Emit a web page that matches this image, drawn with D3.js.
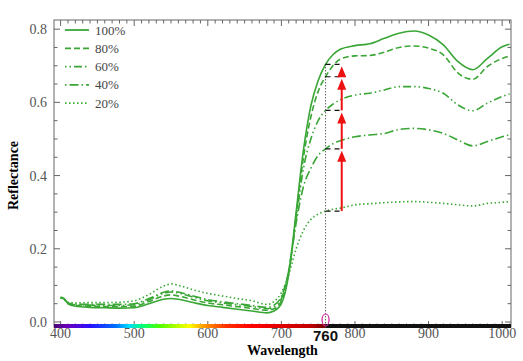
<!DOCTYPE html>
<html>
<head>
<meta charset="utf-8">
<script src="https://cdn.jsdelivr.net/npm/d3@7"></script>
<style>
  body { margin: 0; background: #fff; }
  svg { display: block; }
</style>
</head>
<body>
<div id="chart"></div>
<script>

const wavelengths = [400, 405, 410, 420, 440, 460, 480, 500, 520, 540, 550, 560, 580, 600, 620, 640, 660, 680, 690, 700, 710, 720, 730, 740, 750, 760, 770, 780, 800, 820, 840, 860, 880, 900, 920, 940, 960, 980, 1000, 1010];

const r100 = [0.068, 0.064, 0.050, 0.043, 0.040, 0.039, 0.038, 0.039, 0.050, 0.062, 0.064, 0.062, 0.053, 0.045, 0.040, 0.035, 0.030, 0.025, 0.030, 0.050, 0.130, 0.300, 0.470, 0.590, 0.660, 0.704, 0.730, 0.745, 0.755, 0.760, 0.775, 0.789, 0.795, 0.784, 0.757, 0.711, 0.689, 0.720, 0.752, 0.759];
const r80  = [0.066, 0.062, 0.050, 0.045, 0.043, 0.042, 0.042, 0.043, 0.056, 0.071, 0.074, 0.071, 0.061, 0.052, 0.047, 0.042, 0.037, 0.032, 0.036, 0.058, 0.140, 0.290, 0.450, 0.560, 0.630, 0.670, 0.700, 0.718, 0.727, 0.728, 0.737, 0.750, 0.754, 0.748, 0.730, 0.680, 0.663, 0.698, 0.720, 0.727];
const r60  = [0.066, 0.062, 0.051, 0.047, 0.046, 0.045, 0.045, 0.047, 0.061, 0.078, 0.082, 0.079, 0.068, 0.058, 0.052, 0.047, 0.042, 0.036, 0.041, 0.064, 0.140, 0.280, 0.420, 0.500, 0.550, 0.578, 0.595, 0.607, 0.620, 0.625, 0.634, 0.643, 0.643, 0.638, 0.625, 0.593, 0.577, 0.598, 0.616, 0.623];
const r40  = [0.066, 0.062, 0.052, 0.049, 0.048, 0.048, 0.048, 0.050, 0.064, 0.081, 0.085, 0.082, 0.071, 0.061, 0.055, 0.050, 0.045, 0.040, 0.046, 0.070, 0.140, 0.270, 0.370, 0.420, 0.455, 0.473, 0.487, 0.495, 0.506, 0.511, 0.515, 0.526, 0.529, 0.525, 0.515, 0.497, 0.481, 0.493, 0.506, 0.511];
const r20  = [0.066, 0.062, 0.054, 0.052, 0.053, 0.053, 0.054, 0.058, 0.075, 0.098, 0.104, 0.100, 0.088, 0.078, 0.071, 0.064, 0.058, 0.048, 0.056, 0.080, 0.130, 0.200, 0.250, 0.280, 0.295, 0.303, 0.308, 0.311, 0.320, 0.323, 0.326, 0.328, 0.329, 0.327, 0.324, 0.320, 0.317, 0.324, 0.327, 0.329];

const seriesLabels = ["100%", "80%", "60%", "40%", "20%"];
const seriesValues = [r100, r80, r60, r40, r20];
const dashes = [null, "6,3", "1.5,3,1.5,3,8,3", "1.5,3,9,3", "1.5,2.5"];

const xTicks = [400, 500, 600, 700, 800, 900, 1000];
const yTicks = [0.0, 0.2, 0.4, 0.6, 0.8];
const markWavelength = 760;

// spectrum strip under the x axis
const spectrumStops = [
  { w: 391, c: "#4a0070" }, { w: 410, c: "#6a00c0" }, { w: 440, c: "#2a10ff" },
  { w: 475, c: "#0070ff" }, { w: 492, c: "#00d8ff" }, { w: 510, c: "#00ff80" },
  { w: 535, c: "#50ff00" }, { w: 575, c: "#ffff00" }, { w: 595, c: "#ff9a00" },
  { w: 625, c: "#ff3000" }, { w: 660, c: "#ff0000" }, { w: 740, c: "#c00000" },
  { w: 760, c: "#700000" }
];

const width = 523;
const height = 361;
const margin = { top: 20, right: 12, bottom: 34, left: 54 };
const lineColor = "#3aa636";
const axisColor = "#666";
const labelColor = "#555";

const svg = d3.select("#chart")
  .append("svg")
    .attr("width", width)
    .attr("height", height);

const xScale = d3.scaleLinear()
  .domain([391, 1012])
  .range([margin.left, width - margin.right]);
const yScale = d3.scaleLinear()
  .domain([-0.0137, 0.825])
  .range([height - margin.bottom, margin.top]);

const x0 = margin.left, x1 = width - margin.right;
const y0 = height - margin.bottom, y1 = margin.top;

// frame
svg.append("rect")
  .attr("x", x0).attr("y", y1)
  .attr("width", x1 - x0).attr("height", y0 - y1)
  .attr("fill", "none")
  .attr("stroke", axisColor)
  .attr("stroke-width", 1);

// ticks (inward on all four sides)
const minorX = d3.range(400, 1011, 10);
const minorY = d3.range(0, 0.81, 0.05);
const tickG = svg.append("g").attr("stroke", axisColor).attr("stroke-width", 1);
minorX.forEach(w => {
  const major = w % 100 === 0;
  const len = major ? 6 : 3.5;
  tickG.append("line")
    .attr("x1", xScale(w)).attr("x2", xScale(w))
    .attr("y1", y0).attr("y2", y0 - len);
  tickG.append("line")
    .attr("x1", xScale(w)).attr("x2", xScale(w))
    .attr("y1", y1).attr("y2", y1 + len);
});
minorY.forEach(v => {
  const major = Math.abs(v * 5 - Math.round(v * 5)) < 1e-6;
  const len = major ? 6 : 3.5;
  tickG.append("line")
    .attr("x1", x0).attr("x2", x0 + len)
    .attr("y1", yScale(v)).attr("y2", yScale(v));
  tickG.append("line")
    .attr("x1", x1).attr("x2", x1 - len)
    .attr("y1", yScale(v)).attr("y2", yScale(v));
});

// tick labels
svg.append("g")
  .selectAll("text")
  .data(xTicks)
  .join("text")
    .attr("x", d => xScale(d))
    .attr("y", y0 + 11)
    .attr("text-anchor", "middle")
    .style("font-family", "'Liberation Serif', serif")
    .style("font-size", "14px")
    .style("fill", labelColor)
    .text(d => d);
svg.append("g")
  .selectAll("text")
  .data(yTicks)
  .join("text")
    .attr("x", x0 - 7)
    .attr("y", d => yScale(d) + 5)
    .attr("text-anchor", "end")
    .style("font-family", "'Liberation Serif', serif")
    .style("font-size", "14px")
    .style("fill", labelColor)
    .text(d => d.toFixed(1));

// axis titles
svg.append("text")
  .attr("x", (x0 + x1) / 2)
  .attr("y", 355)
  .attr("text-anchor", "middle")
  .style("font-family", "'Liberation Serif', serif")
  .style("font-size", "14px")
  .style("font-weight", 700)
  .text("Wavelength");
svg.append("text")
  .attr("transform", `translate(18, ${(y0 + y1) / 2 + 2}) rotate(-90)`)
  .attr("text-anchor", "middle")
  .style("font-family", "'Liberation Serif', serif")
  .style("font-size", "14px")
  .style("font-weight", 700)
  .text("Reflectance");

// spectrum strip
const grad = svg.append("defs")
  .append("linearGradient")
    .attr("id", "spectrum")
    .attr("gradientUnits", "userSpaceOnUse")
    .attr("x1", xScale(391)).attr("x2", xScale(markWavelength))
    .attr("y1", 0).attr("y2", 0);
spectrumStops.forEach(s => {
  grad.append("stop")
    .attr("offset", (s.w - 391) / (markWavelength - 391))
    .attr("stop-color", s.c);
});
svg.append("rect")
  .attr("x", x0).attr("y", y0 - 3)
  .attr("width", xScale(markWavelength) - x0).attr("height", 4)
  .attr("fill", "url(#spectrum)");
svg.append("rect")
  .attr("x", xScale(markWavelength)).attr("y", y0 - 3)
  .attr("width", x1 - xScale(markWavelength)).attr("height", 4)
  .attr("fill", "#111");

// curves
const line = d3.line()
  .x((d, i) => xScale(wavelengths[i]))
  .y(d => yScale(d))
  .curve(d3.curveMonotoneX);
const curves = svg.append("g");
seriesValues.forEach((vals, i) => {
  curves.append("path")
    .attr("d", line(vals))
    .attr("fill", "none")
    .attr("stroke", lineColor)
    .attr("stroke-width", 1.6)
    .attr("stroke-dasharray", dashes[i]);
});

// legend
const legend = svg.append("g");
seriesLabels.forEach((label, i) => {
  const ly = 30 + i * 18.3;
  legend.append("line")
    .attr("x1", 65).attr("x2", 89)
    .attr("y1", ly).attr("y2", ly)
    .attr("stroke", lineColor)
    .attr("stroke-width", 1.8)
    .attr("stroke-dasharray", dashes[i]);
  legend.append("text")
    .attr("x", 95)
    .attr("y", ly + 4.5)
    .style("font-family", "'Liberation Serif', serif")
    .style("font-size", "13px")
    .style("fill", "#444")
    .text(label);
});

// annotations at 760 nm
const mi = wavelengths.indexOf(markWavelength);
const markValues = seriesValues.map(v => v[mi]);
const xm = xScale(markWavelength);
const xa = xScale(markWavelength + 22);

svg.append("line")
  .attr("x1", xm).attr("x2", xm)
  .attr("y1", yScale(d3.max(markValues))).attr("y2", y0 - 4)
  .attr("stroke", "#222")
  .attr("stroke-width", 1)
  .attr("stroke-dasharray", "1,2");

markValues.forEach(v => {
  svg.append("line")
    .attr("x1", xm).attr("x2", xa)
    .attr("y1", yScale(v)).attr("y2", yScale(v))
    .attr("stroke", "#111")
    .attr("stroke-width", 1.2)
    .attr("stroke-dasharray", "5,4");
});

// red arrows from each level up to the next
for (let i = markValues.length - 1; i > 0; i--) {
  const yFrom = yScale(markValues[i]);
  const yTo = yScale(markValues[i - 1]) + 2;
  svg.append("line")
    .attr("x1", xa).attr("x2", xa)
    .attr("y1", yFrom).attr("y2", yTo + 8)
    .attr("stroke", "#ee1111")
    .attr("stroke-width", 2);
  svg.append("path")
    .attr("d", `M${xa},${yTo} L${xa - 4.5},${yTo + 11} L${xa + 4.5},${yTo + 11} Z`)
    .attr("fill", "#ee1111");
}

svg.append("ellipse")
  .attr("cx", xm).attr("cy", y0 - 7)
  .attr("rx", 3.5).attr("ry", 6)
  .attr("fill", "none")
  .attr("stroke", "#d0209a")
  .attr("stroke-width", 1.2);

svg.append("text")
  .attr("x", xm)
  .attr("y", y0 + 14)
  .attr("text-anchor", "middle")
  .style("font-family", "'Liberation Sans', Arial, sans-serif")
  .style("font-size", "15px")
  .style("font-weight", 700)
  .style("fill", "#111")
  .text(markWavelength);

</script>
</body>
</html>
